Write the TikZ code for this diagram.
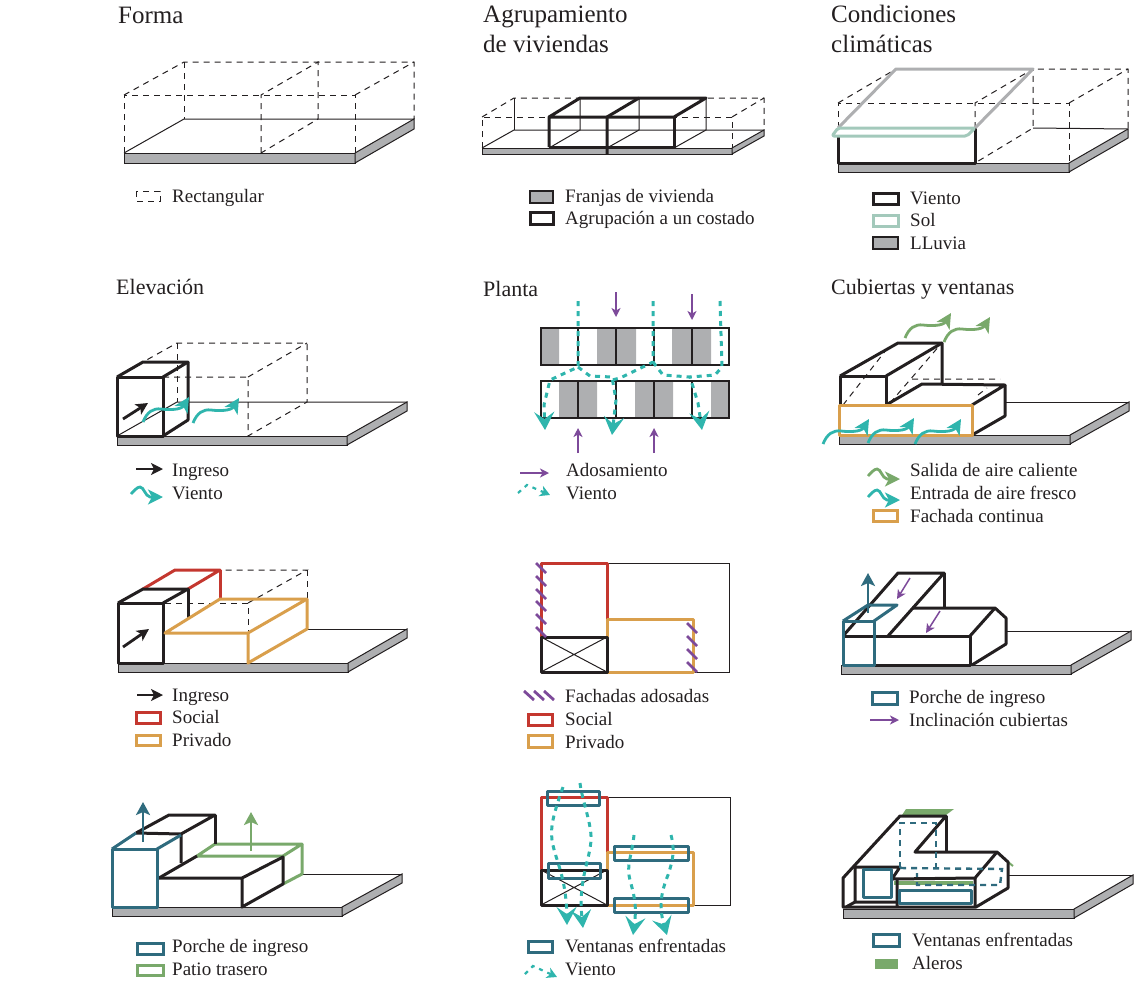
\documentclass[tikz,border=0pt]{standalone}
\usepackage{fontspec}
\setmainfont{Liberation Serif}
\usepackage{xcolor}
\usetikzlibrary{arrows.meta}
\definecolor{gris}{HTML}{AEAFB1}
\definecolor{tinta}{HTML}{231F20}
\definecolor{rojo}{HTML}{C4372F}
\definecolor{naranja}{HTML}{D99F4C}
\definecolor{petroleo}{HTML}{2F6B7E}
\definecolor{verde}{HTML}{79A96B}
\definecolor{turquesa}{HTML}{2FB5AD}
\definecolor{morado}{HTML}{7D4A9A}
\definecolor{solar}{HTML}{A3C9BB}

\newcommand{\tablero}[6]{
    \filldraw[fill=gris, draw=tinta, line width=1pt] (#1,#3) rectangle (#2,#3+#6);
    \filldraw[fill=gris, draw=tinta, line width=1pt] (#2,#3) -- (#4,#5) -- (#4,#5+#6) -- (#2,#3+#6) -- cycle;
}
\newcommand{\onda}[2]{
    \draw[#1, shift={(#2)}] (0,0) .. controls (4,-10) and (10,-14) .. (18,-13) .. controls (26,-12) and (38,-12) .. (46,-25);
}
\newcommand{\ondita}[2]{
    \draw[#1, shift={(#2)}] (0,0) .. controls (3,-3) and (6,-7) .. (9,-7) .. controls (13,-7) and (14,2) .. (19,3) .. controls (23,4) and (28,3) .. (32,3);
}

\begin{document}
\begin{tikzpicture}[
        x=1pt, y=-1pt,
        >=Stealth,
        every node/.style={
            text=tinta,
            inner sep=0pt
        },
        titulo/.style={
            anchor=base west,
            font=\fontsize{25}{27}\selectfont
        },
        subtitulo/.style={
            anchor=base west,
            font=\fontsize{22}{24}\selectfont
        },
        leyenda/.style={
            anchor=base west,
            font=\fontsize{19}{22}\selectfont
        },
        fina/.style={
            draw=tinta,
            line width=1pt
        },
        muro/.style={
            draw=tinta,
            line width=3pt,
            line join=round
        },
        punteada/.style={
            draw=tinta,
            line width=1pt,
            dash pattern=on 6pt off 5pt
        },
        zona/.style={
            line width=3pt,
            line join=round
        },
        caja/.style={
            line width=3pt,
            fill=white
        },
        flecha/.style={
            -{Stealth[length=9pt,width=9pt,inset=2.5pt]},
            line width=1.5pt,
            morado
        },
        ingreso/.style={
            -{Stealth[length=12pt,width=12pt,inset=3pt]},
            line width=2.8pt,
            tinta
        },
        alza/.style={
            -{Stealth[length=13pt,width=14pt,inset=3pt]},
            line width=2.8pt
        },
        aire/.style={
            -{Stealth[length=15pt,width=15pt,inset=4pt]},
            line width=2.8pt
        },
        viento/.style={
            -{Stealth[length=18pt,width=20pt,inset=7pt]},
            draw=turquesa,
            line width=3pt,
            dash pattern=on 5pt off 5pt
        },
        trama/.style={
            draw=morado,
            line width=2.8pt
        }
    ]
    \useasboundingbox (0,0) rectangle (1134,1007);

    \node[titulo] (forma) at (118,23) {Forma};
    \tablero{124}{355}{153}{414}{119}{10}
    \draw[fina] (124,153) -- (184,119) -- (414,119);
    \draw[punteada] (124,153) -- (124,95) -- (355,95) -- (355,153);
    \draw[punteada] (124,95) -- (184,62) -- (414,62) -- (414,119);
    \draw[punteada] (355,95) -- (414,62);
    \draw[punteada] (184,62) -- (184,119);
    \draw[punteada] (261,153) -- (261,95) -- (318,62) -- (318,119) -- (261,153);
    \draw[punteada] (136,191) rectangle (160,201);
    \node[leyenda] (rectangular) at (172,202) {Rectangular};

    \node[titulo] (agrupamiento) at (483,22) {Agrupamiento};
    \node[titulo] (viviendas) at (483,52) {de viviendas};
    \tablero{482}{732}{148}{764}{130}{6}
    \draw[fina] (482,148) -- (514,130) -- (764,130);
    \draw[fina] (514,98) -- (514,130);
    \draw[fina] (549,148) -- (580,130) -- (580,98);
    \draw[fina] (607,148) -- (639,130) -- (639,98);
    \draw[fina] (674,148) -- (706,130) -- (706,98);
    \draw[punteada] (482,148) -- (482,117) -- (732,117) -- (732,148);
    \draw[punteada] (482,117) -- (514,98) -- (764,98) -- (764,130);
    \draw[punteada] (732,117) -- (764,98);
    \draw[muro] (549,147) -- (549,117) -- (580,98) -- (706,98) -- (674,117) -- (549,117);
    \draw[muro] (549,147) -- (674,147) -- (674,117);
    \draw[muro] (607,154) -- (607,117) -- (639,98);
    \filldraw[fill=gris, draw=tinta, line width=1.2pt] (530,191) rectangle (553,203);
    \node[leyenda] (franjas) at (565,202) {Franjas de vivienda};
    \draw[caja, draw=tinta] (530,212) rectangle (553,224);
    \node[leyenda] (costado) at (565,224) {Agrupación a un costado};

    \node[titulo] (condiciones) at (831,22) {Condiciones};
    \node[titulo] (climaticas) at (831,52) {climáticas};
    \tablero{838}{1069}{163}{1128}{129}{9}
    \draw[fina] (1033,128) -- (1128,129);
    \draw[punteada] (838,128) -- (838,103) -- (1069,103) -- (1069,163);
    \draw[punteada] (838,103) -- (896,69) -- (1128,69) -- (1128,129);
    \draw[punteada] (1069,103) -- (1128,69);
    \draw[punteada] (975,128) -- (975,103) -- (1033,69) -- (1033,128) -- (975,163);
    \draw[muro] (838,136) -- (838,163) -- (975,163) -- (975,128);
    \draw[zona, draw=gris] (838,128) -- (896,69) -- (1033,69) -- (975,128);
    \draw[zona, draw=solar, rounded corners=2pt] (838,128) -- (975,128) -- (967,136) -- (832,136) -- cycle;
    \draw[caja, draw=tinta] (873,193) rectangle (898,204);
    \node[leyenda] (vientoc) at (910,204) {Viento};
    \draw[caja, draw=solar] (873,215) rectangle (898,226);
    \node[leyenda] (sol) at (910,226) {Sol};
    \filldraw[fill=gris, draw=tinta, line width=1.4pt] (873,237) rectangle (898,249);
    \node[leyenda] (lluvia) at (910,249) {LLuvia};

    \node[subtitulo] (elevacion) at (116,294) {Elevación};
    \tablero{117}{347}{436}{407}{402}{9}
    \draw[fina] (117,436) -- (177,402) -- (407,402);
    \draw[punteada] (163,377) -- (248,377) -- (248,436) -- (307,402) -- (307,343) -- (177,343) -- (143,362);
    \draw[punteada] (248,377) -- (307,343);
    \draw[punteada] (177,343) -- (177,402);
    \draw[muro] (117,436) -- (117,377) -- (163,377) -- (163,436) -- cycle;
    \draw[muro] (117,377) -- (143,362) -- (188,362) -- (163,377);
    \draw[muro] (188,362) -- (188,420) -- (163,436);
    \draw[ingreso] (123,419) -- (148,403);
    \onda{aire, draw=turquesa}{143,422}
    \onda{aire, draw=turquesa}{193,423}
    \draw[ingreso] (136,469) -- (163,469);
    \node[leyenda] (ingresoa) at (172,476) {Ingreso};
    \ondita{aire, draw=turquesa}{131,494}
    \node[leyenda] (vientoa) at (172,499) {Viento};

    \node[subtitulo] (planta) at (483,296) {Planta};
    \fill[gris] (541,328) rectangle (559,365) (597,328) rectangle (636,365) (672,328) rectangle (711,365);
    \fill[gris] (559,381) rectangle (597,418) (635,381) rectangle (673,418) (711,381) rectangle (729,418);
    \draw[fina, line width=1.4pt] (541,328) rectangle (729,365);
    \draw[fina, line width=1.4pt] (541,381) rectangle (729,418);
    \draw[fina, line width=1.6pt] (578,328) -- (578,365) (616,328) -- (616,365) (654,328) -- (654,365) (692,328) -- (692,365);
    \draw[fina, line width=1.6pt] (578,381) -- (578,418) (616,381) -- (616,418) (654,381) -- (654,418) (692,381) -- (692,418);
    \draw[flecha] (616,292) -- (616,317);
    \draw[flecha] (692,294) -- (692,320);
    \draw[flecha] (578,453) -- (578,428);
    \draw[flecha] (654,453) -- (654,428);
    \draw[viento] (578,301) -- (578,367) -- (550,380) -- (544,405) -- (545,430);
    \draw[viento] (578,367) -- (590,376) -- (612,377) -- (616,400) -- (612,435);
    \draw[viento, -] (653,301) -- (653,362) -- (647,365) -- (620,378) -- (612,380);
    \draw[viento] (653,362) -- (663,375) -- (690,377) -- (698,403) -- (702,430);
    \draw[viento, -] (720,301) -- (722,367) -- (715,375) -- (690,377);
    \draw[flecha] (520,473) -- (549,473);
    \node[leyenda] (adosamiento) at (566,476) {Adosamiento};
    \draw[viento, -{Stealth[length=10pt,width=11pt,inset=3pt]}, line width=2.2pt, dash pattern=on 4pt off 5pt] (518,493) -- (527,485) -- (550,495);
    \node[leyenda] (vientob) at (566,499) {Viento};

    \node[subtitulo] (cubiertas) at (831,294) {Cubiertas y ventanas};
    \tablero{839}{1070}{435}{1129}{402}{9}
    \draw[fina] (1005,402) -- (1129,402);
    \draw[punteada] (843,405) -- (890,345) (890,403) -- (940,345) (912,379) -- (1000,379) (978,395) -- (987,388);
    \draw[muro] (840,405) -- (840,376) -- (886,376) -- (886,405);
    \draw[muro] (840,376) -- (898,343) -- (942,343) -- (942,384);
    \draw[muro] (886,376) -- (942,343);
    \draw[muro] (886,405) -- (922,384) -- (1005,385) -- (972,405);
    \draw[muro] (1005,385) -- (1005,416) -- (972,435);
    \draw[zona, draw=naranja] (839,405) rectangle (972,435);
    \onda{aire, draw=verde}{905,338}
    \onda{aire, draw=verde}{944,342}
    \onda{aire, draw=turquesa}{823,444}
    \onda{aire, draw=turquesa}{868,443}
    \onda{aire, draw=turquesa}{915,444}
    \ondita{aire, draw=verde}{868,476}
    \node[leyenda] (salida) at (910,476) {Salida de aire caliente};
    \ondita{aire, draw=turquesa}{868,497}
    \node[leyenda] (entrada) at (910,499) {Entrada de aire fresco};
    \draw[caja, draw=naranja] (873,510) rectangle (897,521);
    \node[leyenda] (fachada) at (910,522) {Fachada continua};

    \tablero{118}{348}{663}{407}{629}{9}
    \draw[fina] (308,629) -- (407,629);
    \draw[punteada] (165,603) -- (248,603) -- (248,633);
    \draw[punteada] (248,603) -- (307,570) -- (220,570);
    \draw[punteada] (307,570) -- (307,599);
    \draw[zona, draw=rojo] (143,589) -- (175,570) -- (220,570) -- (188,589);
    \draw[zona, draw=rojo] (220,570) -- (220,600);
    \draw[muro] (118,663) -- (118,603) -- (163,603) -- (163,663) -- cycle;
    \draw[muro] (118,603) -- (143,589) -- (188,589) -- (163,603);
    \draw[muro] (188,589) -- (188,618);
    \draw[zona, draw=naranja] (165,633) -- (220,599) -- (307,599) -- (248,633) -- cycle;
    \draw[zona, draw=naranja] (248,633) -- (248,663) -- (307,629) -- (307,599);
    \draw[ingreso] (123,647) -- (149,629);
    \draw[ingreso] (137,695) -- (163,695);
    \node[leyenda] (ingresob) at (172,701) {Ingreso};
    \draw[caja, draw=rojo] (136,712) rectangle (160,723);
    \node[leyenda] (sociala) at (172,723) {Social};
    \draw[caja, draw=naranja] (136,735) rectangle (160,745);
    \node[leyenda] (privadoa) at (172,746) {Privado};

    \draw[fina] (607,563) rectangle (729,672);
    \draw[zona, draw=rojo] (541,637) -- (541,563) -- (607,563) -- (607,619);
    \draw[zona, draw=naranja] (607,637) -- (607,619) -- (693,619) -- (693,672) -- (607,672);
    \draw[muro] (541,637) rectangle (607,672);
    \draw[fina] (541,637) -- (607,672) (541,672) -- (607,637);
    \draw[trama] (536,563) -- (546,573) (536,576) -- (546,586) (536,589) -- (546,599) (536,601) -- (546,611) (536,614) -- (546,624) (536,627) -- (546,637);
    \draw[trama] (687,623) -- (697,633) (687,636) -- (697,646) (687,649) -- (697,659) (687,662) -- (697,672);
    \draw[trama] (524,691) -- (534,700) (534,691) -- (544,700) (544,691) -- (554,700);
    \node[leyenda] (adosadas) at (565,702) {Fachadas adosadas};
    \draw[caja, draw=rojo] (528,714) rectangle (552,725);
    \node[leyenda] (socialb) at (565,725) {Social};
    \draw[caja, draw=naranja] (528,735) rectangle (552,747);
    \node[leyenda] (privadob) at (565,748) {Privado};

    \tablero{841}{1071}{665}{1131}{631}{9}
    \draw[fina] (1007,631) -- (1131,631);
    \draw[muro] (843,636) -- (970,636) -- (970,665) -- (875,665);
    \draw[muro] (843,636) -- (898,573) -- (944,573) -- (888,636);
    \draw[muro] (944,573) -- (944,608);
    \draw[muro] (912,608) -- (995,608) -- (1006,618) -- (1006,644) -- (972,665);
    \draw[muro] (995,608) -- (970,636);
    \draw[zona, draw=petroleo] (843,621) rectangle (874,665);
    \draw[zona, draw=petroleo] (843,621) -- (868,605) -- (897,605) -- (874,621);
    \draw[alza, draw=petroleo] (868,613) -- (868,573);
    \draw[flecha] (910,578) -- (897,599);
    \draw[flecha] (940,611) -- (926,633);
    \draw[caja, draw=petroleo] (872,692) rectangle (897,704);
    \node[leyenda] (porchea) at (909,703) {Porche de ingreso};
    \draw[flecha] (870,720) -- (899,720);
    \node[leyenda] (inclinacion) at (909,726) {Inclinación cubiertas};

    \tablero{112}{342}{907}{402}{874}{9}
    \draw[fina] (302,874) -- (402,874);
    \draw[zona, draw=verde] (197,856) -- (215,844) -- (302,844) -- (283,856) -- cycle;
    \draw[zona, draw=verde] (302,844) -- (302,874) -- (283,884);
    \draw[muro] (136,833) -- (181,834) -- (181,863);
    \draw[muro] (136,833) -- (169,815) -- (215,815) -- (181,834);
    \draw[muro] (215,815) -- (215,844);
    \draw[muro] (159,878) -- (197,856);
    \draw[muro] (159,878) -- (242,878) -- (242,907) -- (283,884) -- (283,857) -- (242,878);
    \draw[zona, draw=petroleo] (112,907) -- (112,849) -- (157,849) -- (157,907) -- cycle;
    \draw[zona, draw=petroleo] (112,849) -- (136,833) (157,849) -- (181,835);
    \draw[alza, draw=petroleo] (143,842) -- (143,802);
    \draw[alza, draw=verde] (251,851) -- (251,812);
    \draw[caja, draw=petroleo] (137,943) rectangle (163,954);
    \node[leyenda] (porcheb) at (172,952) {Porche de ingreso};
    \draw[caja, draw=verde] (137,965) rectangle (163,975);
    \node[leyenda] (patio) at (172,975) {Patio trasero};

    \draw[fina] (607,797) rectangle (730,905);
    \draw[zona, draw=rojo] (541,870) -- (541,797) -- (607,797) -- (607,852);
    \draw[zona, draw=naranja] (607,870) -- (607,852) -- (693,852) -- (693,905) -- (607,905);
    \draw[muro] (541,870) rectangle (607,905);
    \draw[fina] (541,870) -- (607,905) (541,905) -- (607,870);
    \draw[zona, draw=petroleo] (547,791) rectangle (599,805);
    \draw[zona, draw=petroleo] (548,863) rectangle (600,878);
    \draw[zona, draw=petroleo] (614,846) rectangle (688,860);
    \draw[zona, draw=petroleo] (614,898) rectangle (688,912);
    \draw[viento] (563,787) .. controls (555,810) and (550,825) .. (552,840) .. controls (555,860) and (566,875) .. (567,925);
    \draw[viento] (580,783) .. controls (582,800) and (592,825) .. (591,840) .. controls (590,860) and (578,880) .. (583,928);
    \draw[viento] (634,835) .. controls (632,855) and (626,865) .. (630,880) .. controls (634,895) and (637,905) .. (633,935);
    \draw[viento] (671,835) .. controls (675,850) and (673,860) .. (668,875) .. controls (662,890) and (658,905) .. (667,935);
    \draw[caja, draw=petroleo] (528,941) rectangle (552,952);
    \node[leyenda] (ventanasa) at (565,952) {Ventanas enfrentadas};
    \draw[viento, -{Stealth[length=10pt,width=11pt,inset=3pt]}, line width=2.2pt, dash pattern=on 4pt off 5pt] (525,974) -- (533,966) -- (557,977);
    \node[leyenda] (vientod) at (565,975) {Viento};

    \tablero{843}{1074}{909}{1133}{875}{9}
    \draw[fina] (1009,875) -- (1133,875);
    \fill[verde] (902,815) -- (946,815) -- (954,809) -- (906,809) -- cycle;
    \fill[verde] (894,881) -- (973,881) -- (973,885) -- (894,885) -- cycle;
    \draw[zona, draw=verde, line width=2pt] (1008,862) -- (1013,866);
    \draw[muro] (843,907) -- (843,878) -- (900,816) -- (946,816) -- (915,852) -- (997,852) -- (1008,862) -- (1008,888) -- (976,907) -- cycle;
    \draw[muro] (946,816) -- (946,852);
    \draw[muro] (997,852) -- (975,878) -- (892,879) -- (900,867) -- (855,867) -- (855,902) -- (897,902);
    \draw[muro] (897,879) -- (897,907) (975,878) -- (975,907) (846,907) -- (855,902);
    \draw[zona, draw=petroleo] (863,869) rectangle (891,897);
    \draw[zona, draw=petroleo] (899,890) rectangle (971,903);
    \draw[draw=petroleo, line width=2.4pt, dash pattern=on 6pt off 5pt] (900,868) -- (900,823) -- (936,823) -- (936,868);
    \draw[draw=petroleo, line width=2.4pt, dash pattern=on 6pt off 5pt] (900,868) -- (1002,869) -- (1000,885) -- (917,885) -- (917,873);
    \draw[caja, draw=petroleo] (873,934) rectangle (899,946);
    \node[leyenda] (ventanasb) at (912,946) {Ventanas enfrentadas};
    \fill[verde] (875,959) rectangle (898,969);
    \node[leyenda] (aleros) at (912,969) {Aleros};

\end{tikzpicture}
\end{document}
